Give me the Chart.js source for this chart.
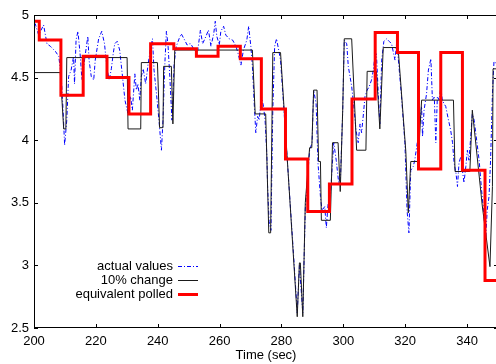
<!DOCTYPE html>
<html>
<head>
<meta charset="utf-8">
<script src="https://cdn.jsdelivr.net/npm/chart.js@4.4.1/dist/chart.umd.min.js"></script>
<style>
  html, body { margin: 0; padding: 0; background: #fff; overflow: hidden; }
  #wrap { width: 500px; height: 364px; }
</style>
</head>
<body>
<div id="wrap"><canvas id="pollChart"></canvas></div>
<script>
// actual values (dash-dot blue)
const actualTime = [200, 200.4, 201.5, 203.1, 204.2, 205.3, 206.9, 208.0, 208.8, 209.4, 209.9, 210.6, 211.2, 212.0, 212.8, 213.1, 213.6, 214.2, 214.9, 215.5,
  216.5, 217.4, 217.8, 218.5, 219.3, 219.8, 220.9, 221.9, 222.8, 223.5, 224.3, 225.0, 225.6, 226.1, 226.9, 227.7, 228.6, 229.4, 230.4, 231.2,
  231.8, 232.6, 233.1, 233.6, 234.2, 234.7, 235.3, 236.1, 236.9, 237.6, 238.3, 238.8, 239.6, 240.4, 241.2, 241.7, 242.3, 242.8, 243.3, 243.9,
  244.6, 245.3, 246.0, 246.9, 247.6, 248.7, 249.5, 250.3, 250.7, 251.8, 252.9, 253.8, 254.5, 255.6, 256.4, 257.2, 258.1, 258.6, 259.1, 259.9,
  260.4, 261.3, 262.0, 263.1, 264.2, 265.3, 266.0, 266.9, 267.7, 268.8, 269.4, 270.1, 270.6, 271.2, 271.7, 272.3, 272.8, 273.5, 274.2, 274.7,
  275.3, 275.5, 276.0, 276.6, 277.2, 277.8, 278.4, 279.1, 279.7, 282.0, 284.0, 285.1, 285.8, 286.9, 287.7, 289.1, 289.9, 290.4, 291.2, 291.8,
  292.6, 293.1, 294.0, 294.5, 295.1, 295.8, 296.4, 296.9, 297.7, 298.5, 299.1, 299.8, 300.3, 301.1, 301.6, 302.7, 303.5, 304.1, 304.8, 305.4,
  305.9, 306.5, 307.0, 307.7, 308.4, 309.1, 309.7, 310.2, 310.7, 311.3, 311.8, 312.4, 313.1, 314.0, 314.8, 315.6, 316.1, 316.7, 317.2, 317.7,
  318.8, 319.9, 320.6, 321.2, 321.8, 322.6, 323.1, 323.9, 324.5, 325.3, 325.6, 326.1, 326.9, 327.5, 328.3, 328.8, 329.4, 329.9, 330.4, 331.0,
  331.5, 332.0, 332.6, 333.1, 334.0, 334.7, 335.3, 335.8, 336.4, 336.9, 337.4, 338.0, 338.5, 339.0, 339.6, 340.1, 340.6, 341.2, 341.7, 342.3,
  342.8, 343.9, 344.7, 345.5, 346.0, 346.5, 347.1, 347.6, 348.2, 348.7, 350];
const actualValues = [4.85, 4.93, 4.84, 4.92, 4.77, 4.75, 4.71, 4.67, 4.51, 4.24, 3.96, 4.16, 4.51, 4.56, 4.67, 4.45, 4.80, 4.87, 4.69, 4.48,
  4.67, 4.83, 4.64, 4.51, 4.48, 4.64, 4.81, 4.87, 4.77, 4.59, 4.48, 4.57, 4.69, 4.77, 4.79, 4.72, 4.51, 4.32, 4.21, 4.35,
  4.24, 4.53, 4.40, 4.45, 4.32, 4.51, 4.57, 4.45, 4.61, 4.72, 4.81, 4.56, 4.37, 4.16, 3.92, 4.16, 4.61, 4.87, 4.77, 4.51,
  4.16, 4.61, 4.75, 4.81, 4.85, 4.80, 4.76, 4.77, 4.77, 4.72, 4.71, 4.88, 4.77, 4.83, 4.88, 4.75, 4.85, 4.95, 4.83, 4.76,
  4.87, 4.91, 4.84, 4.81, 4.80, 4.75, 4.69, 4.60, 4.72, 4.80, 4.91, 4.75, 4.59, 4.29, 4.06, 4.19, 4.16, 4.35, 4.27, 4.16,
  3.87, 3.64, 3.35, 3.28, 4.24, 4.75, 4.81, 4.72, 4.64, 3.80, 3.05, 2.62, 3.00, 2.62, 3.45, 3.92, 3.98, 4.40, 4.29, 3.82,
  3.55, 3.44, 3.47, 3.30, 3.50, 3.55, 3.79, 3.98, 3.84, 3.66, 3.71, 4.24, 4.80, 4.77, 4.59, 4.43, 4.24, 4.08, 3.98, 4.13,
  4.06, 4.21, 4.35, 4.40, 4.43, 4.48, 4.56, 4.67, 4.69, 4.37, 4.13, 4.64, 4.79, 4.81, 4.79, 4.77, 4.71, 4.64, 4.77, 4.67,
  4.35, 3.98, 3.44, 3.26, 3.76, 3.79, 3.84, 3.98, 4.11, 4.27, 4.03, 4.24, 4.37, 4.56, 4.65, 4.32, 4.35, 3.98, 4.35, 4.32,
  4.43, 4.32, 4.29, 4.27, 4.16, 4.08, 3.98, 3.82, 3.74, 3.63, 3.82, 3.87, 3.76, 3.66, 3.79, 3.92, 3.84, 4.03, 4.21, 4.16,
  4.06, 3.84, 3.60, 3.39, 3.20, 3.44, 3.55, 3.84, 4.37, 4.63, 4.60];

// 10% change (thin black)
const changeTime = [200, 208.5, 209.6, 210.3, 210.6, 230.1, 230.4, 234.5, 234.7, 239.9, 240.6, 241.7, 241.9, 244.4, 244.9, 245.5, 270.6, 271.5, 274.9, 275.9,
  276.5, 277.2, 279.7, 285.1, 285.8, 286.1, 286.9, 287.7, 289.1, 289.8, 290.4, 291.5, 292.0, 292.6, 292.9, 295.8, 296.5, 298.3, 299.0, 299.8,
  300.3, 302.7, 304.3, 307.3, 307.7, 310.7, 311.8, 312.9, 317.7, 320.2, 321.0, 321.8, 324.2, 325.3, 335.6, 336.1, 340.9, 341.7, 344.9, 347.4,
  348.2, 348.4, 350];
const changeValues = [4.54, 4.54, 4.09, 4.09, 4.66, 4.66, 4.09, 4.09, 4.62, 4.62, 4.10, 4.10, 4.59, 4.59, 4.13, 4.72, 4.72, 4.21, 4.21, 3.26,
  3.26, 4.70, 4.70, 2.59, 3.02, 3.02, 2.59, 3.50, 3.94, 3.94, 4.40, 4.40, 3.83, 3.83, 3.36, 3.36, 3.98, 3.98, 3.59, 4.24,
  4.81, 4.81, 3.92, 3.92, 4.55, 4.55, 4.09, 4.74, 4.74, 3.91, 3.42, 3.83, 3.83, 4.32, 4.32, 3.75, 3.75, 4.24, 3.48, 2.99,
  3.63, 4.57, 4.57];

// equivalent polled (thick red, held steps)
const polledTime = [200, 201.7, 208.7, 215.9, 223.6, 230.7, 237.7, 245.2, 252.5, 259.5, 266.7, 273.5, 281.3, 288.5, 295.5, 302.8, 310.3, 317.5, 324.3, 331.5, 338.5, 345.8, 350];
const polledValues = [4.95, 4.80, 4.36, 4.67, 4.50, 4.21, 4.77, 4.73, 4.67, 4.75, 4.65, 4.25, 3.85, 3.43, 3.65, 4.33, 4.86, 4.70, 3.77, 4.70, 3.76, 2.88, 2.88];

const seriesNames = ['actual values', '10% change', 'equivalent polled'];

const toPoints = (xs, ys) => xs.map((x, i) => ({x: x, y: ys[i]}));

const FONT = '"Liberation Sans", Arial, sans-serif';

// gnuplot-like frame, inward ticks and key
const framePlugin = {
  id: 'frame',
  afterDatasetsDraw(chart) {
    const {ctx, chartArea: a, scales: {x, y}} = chart;
    ctx.save();
    ctx.strokeStyle = '#000';
    ctx.lineWidth = 1;
    ctx.setLineDash([]);
    ctx.strokeRect(Math.round(a.left) + 0.5, Math.round(a.top) + 0.5, Math.round(a.right - a.left), Math.round(a.bottom - a.top) - 1);
    ctx.beginPath();
    x.ticks.forEach(t => {
      const px = Math.round(x.getPixelForValue(t.value)) + 0.5;
      ctx.moveTo(px, a.bottom); ctx.lineTo(px, a.bottom - 4);
      ctx.moveTo(px, a.top); ctx.lineTo(px, a.top + 4);
    });
    y.ticks.forEach(t => {
      const py = Math.round(y.getPixelForValue(t.value)) + 0.5;
      ctx.moveTo(a.left, py); ctx.lineTo(a.left + 4, py);
      ctx.moveTo(a.right, py); ctx.lineTo(a.right - 4, py);
    });
    ctx.stroke();

    // key
    const rows = [266, 280, 294];
    ctx.font = '13px ' + FONT;
    ctx.fillStyle = '#000';
    ctx.textAlign = 'right';
    ctx.textBaseline = 'middle';
    chart.data.datasets.forEach((ds, i) => {
      ctx.fillText(seriesNames[i], 173, rows[i]);
      ctx.beginPath();
      ctx.strokeStyle = ds.borderColor;
      ctx.lineWidth = ds.borderWidth;
      ctx.setLineDash(ds.borderDash || []);
      ctx.moveTo(178, rows[i] + 0.5);
      ctx.lineTo(198, rows[i] + 0.5);
      ctx.stroke();
    });
    ctx.restore();
  }
};

const ctx = document.getElementById('pollChart').getContext('2d');

new Chart(ctx, {
  type: 'line',
  data: {
    datasets: [{
      label: seriesNames[0],
      data: toPoints(actualTime, actualValues),
      borderColor: '#0000ff',
      borderWidth: 1,
      borderDash: [4, 2, 1, 2],
      pointRadius: 0,
      order: 2
    }, {
      label: seriesNames[1],
      data: toPoints(changeTime, changeValues),
      borderColor: '#1a1a1a',
      borderWidth: 1,
      pointRadius: 0,
      order: 1
    }, {
      label: seriesNames[2],
      data: toPoints(polledTime, polledValues),
      borderColor: '#ff0000',
      borderWidth: 3,
      stepped: true,
      pointRadius: 0,
      order: 0
    }]
  },
  options: {
    responsive: true,
    maintainAspectRatio: false,
    animation: false,
    layout: { padding: { top: 15, right: 2, left: 0, bottom: 0 } },
    plugins: {
      legend: { display: false },
      tooltip: { enabled: false }
    },
    scales: {
      x: {
        type: 'linear',
        min: 200,
        max: 350,
        grid: { display: false, drawTicks: false },
        border: { display: false },
        ticks: {
          stepSize: 20,
          includeBounds: false,
          padding: 6,
          color: '#000',
          font: { family: FONT, size: 13 },
          maxRotation: 0
        },
        title: {
          display: true,
          text: 'Time (sec)',
          color: '#000',
          font: { family: FONT, size: 13 },
          padding: { top: 0, bottom: 1 }
        },
        afterFit: scale => { scale.height = 36; }
      },
      y: {
        min: 2.5,
        max: 5,
        grid: { display: false, drawTicks: false },
        border: { display: false },
        ticks: {
          stepSize: 0.5,
          padding: 5,
          color: '#000',
          font: { family: FONT, size: 13 },
          callback: v => String(Math.round(v * 10) / 10)
        },
        afterFit: scale => { scale.width = 34; }
      }
    }
  },
  plugins: [framePlugin]
});
</script>
</body>
</html>
